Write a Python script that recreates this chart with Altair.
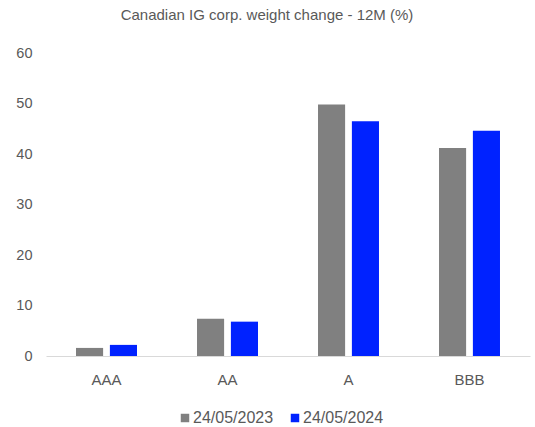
import altair as alt
import pandas as pd

categories = ["AAA", "AA", "A", "BBB"]
series_names = ["24/05/2023", "24/05/2024"]
values_2023 = [1.6, 7.4, 49.8, 41.2]
values_2024 = [2.2, 6.8, 46.5, 44.6]
colors = ["#808080", "#0022FF"]

rows = []
for c, v in zip(categories, values_2023):
    rows.append({"rating": c, "date": series_names[0], "value": v})
for c, v in zip(categories, values_2024):
    rows.append({"rating": c, "date": series_names[1], "value": v})
df = pd.DataFrame(rows)

FONT = "Liberation Sans"
TXT = "#595959"

chart = alt.Chart(df).mark_bar().encode(
    x=alt.X("rating:N", sort=categories, title=None,
            scale=alt.Scale(paddingInner=0.496, paddingOuter=0.248),
            axis=alt.Axis(labelAngle=0, ticks=False, domainColor="#d9d9d9",
                          labelPadding=16, labelFontSize=15, labelColor=TXT,
                          labelFont=FONT)),
    xOffset=alt.XOffset("date:N", sort=series_names,
                        scale=alt.Scale(paddingInner=0.2, paddingOuter=0)),
    y=alt.Y("value:Q", title=None,
            scale=alt.Scale(domain=[0, 60]),
            axis=alt.Axis(values=[0, 10, 20, 30, 40, 50, 60], grid=False,
                          domain=False, ticks=False, labelPadding=14,
                          labelFontSize=14.5, labelColor=TXT, labelFont=FONT)),
    color=alt.Color("date:N", sort=series_names,
                    scale=alt.Scale(domain=series_names, range=colors),
                    legend=alt.Legend(title=None, orient="none", direction="horizontal",
                                      legendX=131, legendY=357,
                                      symbolType="square", symbolSize=72,
                                      symbolStrokeWidth=0, labelFontSize=16,
                                      labelColor=TXT, labelFont=FONT,
                                      labelOffset=0, columnPadding=13)),
).properties(
    width=484,
    height=303,
    title=alt.TitleParams("Canadian IG corp. weight change - 12M (%)",
                          fontSize=15, font=FONT, color=TXT, fontWeight="normal",
                          anchor="middle", dx=-21, offset=22),
    autosize=alt.AutoSizeParams(type="none"),
    padding={"left": 46, "top": 53, "right": 5, "bottom": 71},
).configure_view(stroke=None)

chart.save("out.html", embed_options={"renderer": "svg", "actions": False})
